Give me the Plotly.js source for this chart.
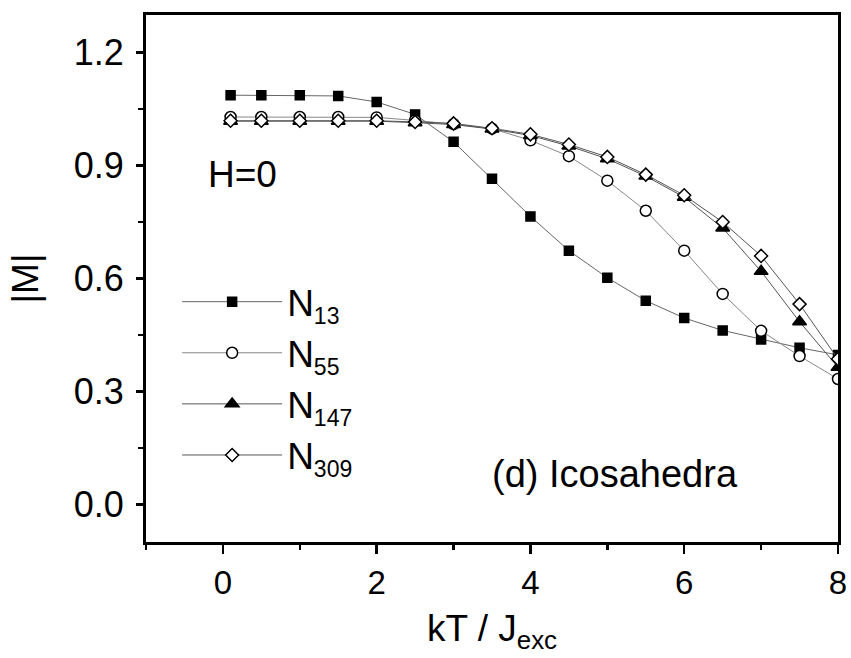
<!DOCTYPE html>
<html>
<head>
<meta charset="utf-8">
<script src="https://cdn.plot.ly/plotly-3.0.1.min.js"></script>
<style>html,body{margin:0;padding:0;background:#fff;}#chart{width:851px;height:658px;}</style>
</head>
<body>
<div id="chart"></div>
<script>
// Data
var kT = [0.1, 0.5, 1.0, 1.5, 2.0, 2.5, 3.0, 3.5, 4.0, 4.5, 5.0, 5.5, 6.0, 6.5, 7.0, 7.5, 8.0];
var M_N13  = [1.087, 1.087, 1.087, 1.085, 1.069, 1.036, 0.963, 0.865, 0.765, 0.674, 0.602, 0.541, 0.495, 0.462, 0.438, 0.416, 0.397];
var M_N55  = [1.029, 1.029, 1.029, 1.029, 1.028, 1.020, 1.010, 0.998, 0.967, 0.925, 0.860, 0.780, 0.674, 0.559, 0.461, 0.394, 0.333];
var M_N147 = [1.018, 1.018, 1.018, 1.018, 1.018, 1.014, 1.009, 0.997, 0.980, 0.952, 0.918, 0.872, 0.816, 0.734, 0.619, 0.485, 0.364];
var M_N309 = [1.019, 1.019, 1.019, 1.019, 1.019, 1.016, 1.012, 0.999, 0.983, 0.956, 0.923, 0.876, 0.821, 0.750, 0.660, 0.532, 0.386];
var seriesLabels = ['13', '55', '147', '309'];
var xTicks = [0, 2, 4, 6, 8];
var yTicks = [0.0, 0.3, 0.6, 0.9, 1.2];
var yTickText = ['0.0', '0.3', '0.6', '0.9', '1.2'];

var FONT = 'Liberation Sans, Arial, sans-serif';

function legendName(n) {
  return 'N<sub><span style="font-size:23px">' + n + '</span></sub>';
}

function mk(y, label, symbol, size, fill, lineColor, group) {
  return {
    x: kT, y: y, name: legendName(label), type: 'scatter', mode: 'lines+markers',
    legendgroup: group,
    line: {color: lineColor, width: 1},
    marker: {symbol: symbol, size: size, color: fill, line: {color: '#000', width: 1.5}}
  };
}

var traces = [
  mk(M_N13, seriesLabels[0], 'square', 9, '#000', '#666', 'a'),
  mk(M_N55, seriesLabels[1], 'circle', 11, '#fff', '#888', 'b'),
  mk(M_N147, seriesLabels[2], 'triangle-up', 12, '#000', '#555', 'c'),
  mk(M_N309, seriesLabels[3], 'diamond', 10, '#fff', '#555', 'd')
];

var layout = {
  width: 851, height: 658,
  margin: {l: 146, r: 13, t: 15, b: 116, pad: 0},
  paper_bgcolor: '#fff', plot_bgcolor: '#fff',
  font: {family: FONT, color: '#000', size: 34},
  showlegend: true,
  legend: {
    x: 0.045, y: 0.514, xanchor: 'left', yanchor: 'top',
    bgcolor: 'rgba(0,0,0,0)', borderwidth: 0,
    font: {family: FONT, size: 37, color: '#000'},
    itemwidth: 100, tracegroupgap: 6, traceorder: 'normal'
  },
  xaxis: {
    range: [-1, 8], tickvals: xTicks, ticktext: xTicks.map(String),
    ticks: 'outside', ticklen: 9, tickwidth: 2.5, tickcolor: '#000',
    showline: true, linewidth: 3, linecolor: '#000', mirror: true,
    showgrid: false, zeroline: false,
    tickfont: {family: FONT, size: 33},
    minor: {dtick: 1, tick0: 0, ticks: 'outside', ticklen: 5, tickwidth: 2.5, tickcolor: '#000', showgrid: false},
    title: {text: 'kT / J<sub>exc</sub>', font: {family: FONT, size: 37}, standoff: 16}
  },
  yaxis: {
    range: [-0.1, 1.3], tickvals: yTicks, ticktext: yTickText,
    ticks: 'outside', ticklen: 7, tickwidth: 2.5, tickcolor: '#000',
    showline: true, linewidth: 3, linecolor: '#000', mirror: true,
    showgrid: false, zeroline: false,
    tickfont: {family: FONT, size: 36},
    ticklabelstandoff: 5,
    minor: {dtick: 0.15, tick0: 0, ticks: 'outside', ticklen: 5, tickwidth: 2.5, tickcolor: '#000', showgrid: false},
    title: {text: '|M|', font: {family: FONT, size: 37}, standoff: 24}
  },
  annotations: [
    {x: -0.22, y: 0.875, xref: 'x', yref: 'y', xanchor: 'left', yanchor: 'middle', showarrow: false,
     text: 'H=0', font: {family: FONT, size: 37, color: '#000'}},
    {x: 3.47, y: 0.08, xref: 'x', yref: 'y', xanchor: 'left', yanchor: 'middle', showarrow: false,
     text: '(d) Icosahedra', font: {family: FONT, size: 38, color: '#000'}}
  ]
};

Plotly.newPlot('chart', traces, layout, {displayModeBar: false, staticPlot: true});
</script>
</body>
</html>
